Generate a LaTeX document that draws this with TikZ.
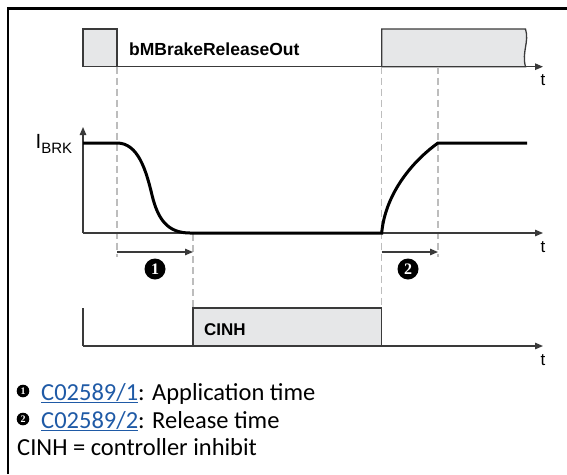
\documentclass[tikz,border=0pt]{standalone}
\usepackage{fontspec}
\setmainfont{Carlito}
\newfontfamily\arialfont{Liberation Sans}
\newfontfamily\serifnum{Liberation Serif}
\usetikzlibrary{arrows.meta}
\definecolor{boxgray}{HTML}{E6E7E8}
\definecolor{dashgray}{HTML}{BDBDBD}
\definecolor{axisgray}{HTML}{3A3A3A}
\definecolor{linkblue}{HTML}{1F5AA6}
\begin{document}
\begin{tikzpicture}[x=1pt,y=-1pt,
  axisline/.style={draw=axisgray, line width=1.3pt},
  axis/.style={axisline, -{Triangle[length=8pt,width=6.5pt]}},
  sigbox/.style={draw=axisgray, line width=1.3pt, fill=boxgray},
  guide/.style={draw=dashgray, line width=1.2pt, dash pattern=on 7pt off 4pt},
  signal/.style={draw=black, line width=3pt},
  tlabel/.style={font=\arialfont\fontsize{17}{17}\selectfont, inner sep=0pt},
  boxlabel/.style={font=\arialfont\bfseries\fontsize{17.5}{17.5}\selectfont, inner sep=0pt, anchor=base west},
  marker/.style={text=white, inner sep=0pt, font=\serifnum\bfseries\fontsize{16}{16}\selectfont},
  smallmarker/.style={text=white, inner sep=0pt, font=\serifnum\bfseries\fontsize{10}{10}\selectfont},
  legend/.style={font=\fontsize{24.5}{24.5}\selectfont, inner sep=0pt, anchor=base west}]
\useasboundingbox (0,0) rectangle (567,474);
% frame
\draw[line width=2.7pt] (8,474) -- (8,8.5) -- (567,8.5);

% coordinates
\coordinate (o1) at (83,66.7);
\coordinate (e1) at (543,66.7);
\coordinate (o2) at (83,233);
\coordinate (y2) at (83,127);
\coordinate (e2) at (543,233);
\coordinate (o3) at (83,346);
\coordinate (y3) at (83,308);
\coordinate (e3) at (543,346);
\coordinate (a1s) at (117,252);
\coordinate (a1e) at (193,252);
\coordinate (a2s) at (381.7,252);
\coordinate (a2e) at (438,252);

% top signal
\draw[sigbox] (83,66.7) rectangle (117,29);
\draw[sigbox] (381.7,66.7) -- (381.7,29) -- (525.5,29)
   .. controls (529.5,42) and (521.5,52) .. (525.5,66.7) -- cycle;
\draw[axis] (o1) -- (e1);
\node[boxlabel] (lbl1) at (129,55) {bMBrakeReleaseOut};
\node[tlabel] (t1) at (543,80) {t};

% guides
\draw[guide] (117,66.7) -- (117,257);
\draw[guide] (193,234) -- (193,308);
\draw[guide] (381.7,66.7) -- (381.7,308);
\draw[guide] (438,66.7) -- (438,257);

% current plot
\draw[axis] (o2) -- (y2);
\draw[axis] (o2) -- (e2);
\draw[signal] (83,143) -- (117,143)
   .. controls (138,143) and (146,170) .. (152,195)
   .. controls (158,220) and (168,233) .. (190,233) -- (381.7,233)
   .. controls (385,196) and (410,163) .. (438,143) -- (527,143);
\node[anchor=base west, inner sep=0pt, font=\arialfont\fontsize{20.5}{20.5}\selectfont] (ibrk) at (35.5,148)
   {I\raisebox{-5pt}{\fontsize{15}{15}\selectfont BRK}};
\node[tlabel] (t2) at (543,247) {t};

% time arrows
\draw[axis] (a1s) -- (a1e);
\draw[axis] (a2s) -- (a2e);
\fill (155,269) circle[radius=10.5pt];
\node[marker] (m1) at (155,269) {1};
\fill (408,269) circle[radius=10.5pt];
\node[marker] (m2) at (408,269) {2};

% bottom signal
\draw[sigbox] (193,346) rectangle (381.7,308);
\draw[axisline] (y3) -- (o3);
\draw[axis] (o3) -- (e3);
\node[boxlabel, font=\arialfont\bfseries\fontsize{17}{17}\selectfont] (lbl3) at (204,335) {CINH};
\node[tlabel] (t3) at (543,360) {t};

% legend
\fill (23,391) circle[radius=6.3pt];
\node[smallmarker] (lm1) at (23,391) {1};
\node[legend] (leg1) at (41,400) {\textcolor{linkblue}{\underline{C02589/1}}: Application time};
\fill (23,419) circle[radius=6.3pt];
\node[smallmarker] (lm2) at (23,419) {2};
\node[legend] (leg2) at (41,428) {\textcolor{linkblue}{\underline{C02589/2}}: Release time};
\node[legend] (leg3) at (17,455) {CINH = controller inhibit};
\end{tikzpicture}
\end{document}
